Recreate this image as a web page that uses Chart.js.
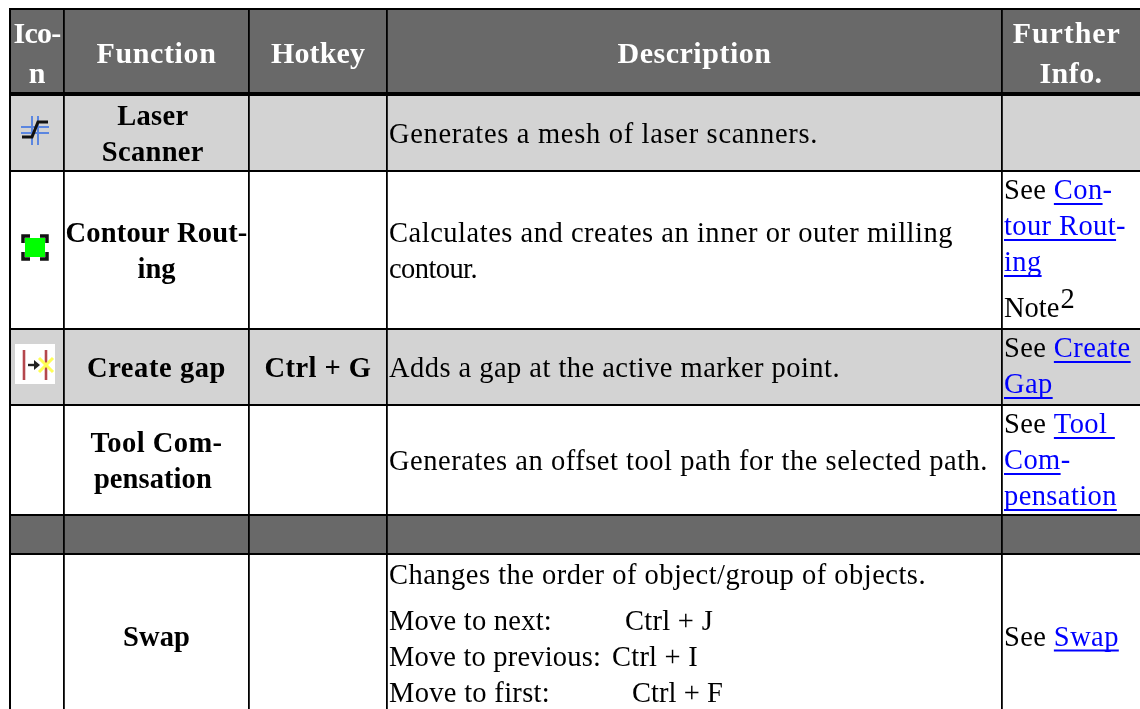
<!DOCTYPE html>
<html>
<head>
<meta charset="utf-8">
<title>Functions</title>
<script src="https://cdn.jsdelivr.net/npm/chart.js@4"></script>
<style>
  html, body { margin: 0; padding: 0; background: #fff; }
  canvas { display: block; }
</style>
</head>
<body>
<canvas id="table" width="1140" height="709"></canvas>
<script>
// table content, one entry per row. \n = line break, {..} = link
var headers = ['Ico-\nn', 'Function', 'Hotkey', 'Description', 'Further \nInfo.'];
var functions = ['Laser \nScanner ', 'Contour Rout-\ning', 'Create gap', 'Tool Com-\npensation ', '', 'Swap'];
var hotkeys = ['', '', 'Ctrl + G', '', '', ''];
var descriptions = [
    'Generates a mesh of laser scanners.',
    'Calculates and creates an inner or outer milling\ncontour.',
    'Adds a gap at the active marker point.',
    'Generates an offset tool path for the selected path.',
    '',
    ''
];
var further = [
    '',
    'See {Con-}\n{tour Rout-}\n{ing}',
    'See {Create}\n{Gap}',
    'See {Tool }\n{Com-}\n{pensation}',
    '',
    'See {Swap}'
];
var swapIntro = 'Changes the order of object/group of objects.';
var swapActions = ['Move to next:', 'Move to previous:', 'Move to first:'];
var swapKeys = ['Ctrl + J', 'Ctrl + I', 'Ctrl + F'];
var noteLabel = 'Note';
var noteMark = '2';

// table geometry, in canvas pixels so the scales map 1:1
// the last row runs past the bottom of the picture
var colEdges = [10, 64, 249, 387, 1002, 1140];
var rowEdges = [9, 94, 171, 329, 405, 515, 554, 717];
var rowColors = ['#696969', '#d3d3d3', '#ffffff', '#d3d3d3', '#ffffff', '#696969', '#ffffff'];

// widths the lines have in the reference, the browser's own text metrics differ a bit
var lineWidths = {
    'Ico-': 47, 'Function': 120, 'Hotkey': 94, 'Description': 154, 'Further': 108, 'Info.': 63,
    'Laser': 71, 'Scanner': 102, 'Contour Rout-': 182, 'Create gap': 139, 'Ctrl + G': 107,
    'Tool Com-': 132, 'pensation': 118, 'Swap': 67,
    'Generates a mesh of laser scanners.': 429,
    'Calculates and creates an inner or outer milling': 564,
    'contour.': 88,
    'Adds a gap at the active marker point.': 451,
    'Generates an offset tool path for the selected path.': 599,
    'Changes the order of object/group of objects.': 537,
    'Move to next:': 163, 'Move to previous:': 212, 'Move to first:': 161,
    'Ctrl + J': 88, 'Ctrl + I': 86, 'Ctrl + F': 91
};

var FONT = '"Liberation Serif", "Times New Roman", serif';
var HEAD_SIZE = 30, BOLD_SIZE = 28.5, BODY_SIZE = 28.5, LINE = 36, HEAD_LINE = 40;
var BODY_ASCENT = 28, HEAD_ASCENT = 31;

function spacingFor(ctx, text, fallback) {
    var key = text.replace(/\s+$/, '');
    if (!lineWidths[key]) return fallback;
    return (lineWidths[key] - ctx.measureText(key).width) / key.length;
}

function putText(ctx, text, x, y, align, fallback) {
    ctx.letterSpacing = spacingFor(ctx, text, fallback || 0) + 'px';
    ctx.textAlign = align;
    ctx.textBaseline = 'alphabetic';
    ctx.fillText(text, x, y);
    ctx.letterSpacing = '0px';
}

function drawCentered(ctx, text, left, right, top, bottom, lineH, ascent) {
    if (!text) return;
    var lines = text.split('\n');
    var y = (top + bottom) / 2 - lines.length * lineH / 2 + ascent;
    for (var i = 0; i < lines.length; i++) {
        putText(ctx, lines[i], (left + right) / 2, y + i * lineH, 'center');
    }
}

function drawLinkLine(ctx, line, x, y) {
    var parts = line.split(/(\{[^}]*\})/);
    ctx.letterSpacing = '0.4px';
    ctx.textAlign = 'left';
    for (var i = 0; i < parts.length; i++) {
        var p = parts[i];
        if (!p) continue;
        var isLink = p.charAt(0) === '{';
        if (isLink) p = p.slice(1, -1);
        ctx.fillStyle = isLink ? '#0000ff' : '#000000';
        ctx.fillText(p, x, y);
        if (isLink) {
            // the hyphen of a broken word stays outside the underline
            ctx.fillRect(x, y + 4, ctx.measureText(p.replace(/-$/, '')).width, 2);
        }
        x += ctx.measureText(p).width;
    }
    ctx.letterSpacing = '0px';
}

function strokeLines(ctx, lines, color, width) {
    ctx.strokeStyle = color;
    ctx.lineWidth = width;
    lines.forEach(function (l) {
        ctx.beginPath();
        ctx.moveTo(l[0], l[1]);
        for (var i = 2; i < l.length; i += 2) ctx.lineTo(l[i], l[i + 1]);
        ctx.stroke();
    });
}

function drawIcons(ctx) {
    // laser scanner
    strokeLines(ctx, [[21, 127, 49, 127], [21, 133, 49, 133], [32, 116, 32, 145], [38, 116, 38, 145]], '#5b86e0', 2);
    strokeLines(ctx, [[48, 122, 38, 122, 32, 137, 22, 137]], '#111111', 3);

    // contour routing
    ctx.fillStyle = '#00ff00';
    ctx.fillRect(25, 238, 20, 19);
    strokeLines(ctx, [
        [23, 243, 23, 236, 30, 236], [40, 236, 47, 236, 47, 243],
        [23, 252, 23, 259, 30, 259], [40, 259, 47, 259, 47, 252]
    ], '#111111', 3.5);

    // create gap
    ctx.fillStyle = '#ffffff';
    ctx.fillRect(15, 344, 40, 40);
    strokeLines(ctx, [[24, 350, 24, 380], [46, 350, 46, 380]], '#b5474d', 2.6);
    strokeLines(ctx, [[39, 358, 53, 372], [53, 358, 39, 372]], '#ffff55', 3);
    strokeLines(ctx, [[28, 365, 36, 365]], '#222222', 2.4);
    ctx.fillStyle = '#222222';
    ctx.beginPath(); ctx.moveTo(34, 360); ctx.lineTo(40, 365); ctx.lineTo(34, 370); ctx.fill();
}

var cellText = {
    id: 'cellText',
    afterDraw: function (chart) {
        var ctx = chart.ctx, xs = chart.scales.x, ys = chart.scales.y;
        var px = function (i) { return xs.getPixelForValue(colEdges[i]); };
        var py = function (i) { return ys.getPixelForValue(rowEdges[i]); };
        var i, r;
        ctx.save();

        ctx.font = 'bold ' + HEAD_SIZE + 'px ' + FONT;
        ctx.fillStyle = '#ffffff';
        for (i = 0; i < headers.length; i++) {
            drawCentered(ctx, headers[i], px(i), px(i + 1), py(0), py(1), HEAD_LINE, HEAD_ASCENT);
        }

        for (r = 0; r < functions.length; r++) {
            var top = py(r + 1), bottom = py(r + 2);
            ctx.font = 'bold ' + BOLD_SIZE + 'px ' + FONT;
            ctx.fillStyle = '#000000';
            drawCentered(ctx, functions[r], px(1), px(2), top, bottom, LINE, BODY_ASCENT);
            drawCentered(ctx, hotkeys[r], px(2), px(3), top, bottom, LINE, BODY_ASCENT);

            ctx.font = BODY_SIZE + 'px ' + FONT;
            if (descriptions[r]) {
                var lines = descriptions[r].split('\n');
                var y0 = (top + bottom) / 2 - lines.length * LINE / 2 + BODY_ASCENT;
                for (i = 0; i < lines.length; i++) {
                    putText(ctx, lines[i], px(3) + 2, y0 + i * LINE, 'left');
                }
            }
            if (further[r]) {
                var fl = further[r].split('\n');
                var fy = fl.length > 1 ? top + BODY_ASCENT : (top + bottom) / 2 - LINE / 2 + BODY_ASCENT;
                for (i = 0; i < fl.length; i++) {
                    drawLinkLine(ctx, fl[i], px(4) + 2, fy + i * LINE);
                }
            }
        }

        // note under the contour routing link
        ctx.fillStyle = '#000000';
        putText(ctx, noteLabel, px(4) + 2, 317, 'left');
        var noteW = ctx.measureText(noteLabel).width;
        putText(ctx, noteMark, px(4) + 3 + noteW, 308, 'left');

        // swap description block
        putText(ctx, swapIntro, px(3) + 2, 584, 'left');
        var keyX = [625, 612, 632];
        for (i = 0; i < swapActions.length; i++) {
            putText(ctx, swapActions[i], px(3) + 2, 630 + i * LINE, 'left');
            putText(ctx, swapKeys[i], keyX[i], 630 + i * LINE, 'left');
        }

        drawIcons(ctx);
        ctx.restore();
    }
};

function buildTable() {
    var midX = (colEdges[0] + colEdges[colEdges.length - 1]) / 2;
    var bands = rowColors.map(function (c, i) {
        return { x: midX, y: [rowEdges[i], rowEdges[i + 1]] };
    });
    new Chart(document.getElementById('table'), {
        type: 'bar',
        data: {
            datasets: [{
                data: bands,
                backgroundColor: rowColors,
                borderWidth: 0,
                barThickness: 1140
            }]
        },
        options: {
            responsive: false,
            animation: false,
            layout: { padding: { left: 9, top: 8, right: 0, bottom: 0 } },
            plugins: { legend: { display: false }, tooltip: { enabled: false } },
            scales: {
                x: {
                    type: 'linear',
                    offset: false,
                    min: 9,
                    max: 1140,
                    afterBuildTicks: function (s) {
                        s.ticks = colEdges.slice(0, -1).map(function (v) { return { value: v }; });
                    },
                    ticks: { display: false, autoSkip: false },
                    border: { display: false },
                    grid: {
                        z: 1,
                        offset: false,
                        drawTicks: false,
                        color: '#000000',
                        lineWidth: function (c) { return c.index === 0 ? 2 : 1.8; }
                    }
                },
                y: {
                    type: 'linear',
                    reverse: true,
                    min: 8,
                    max: 709,
                    afterBuildTicks: function (s) {
                        s.ticks = rowEdges.slice(0, -1).map(function (v) { return { value: v }; });
                    },
                    ticks: { display: false, autoSkip: false },
                    border: { display: false },
                    grid: {
                        z: 1,
                        drawTicks: false,
                        color: '#000000',
                        lineWidth: function (c) { return c.index === 1 ? 4 : 2; }
                    }
                }
            }
        },
        plugins: [cellText]
    });
}

buildTable();
</script>
</body>
</html>
